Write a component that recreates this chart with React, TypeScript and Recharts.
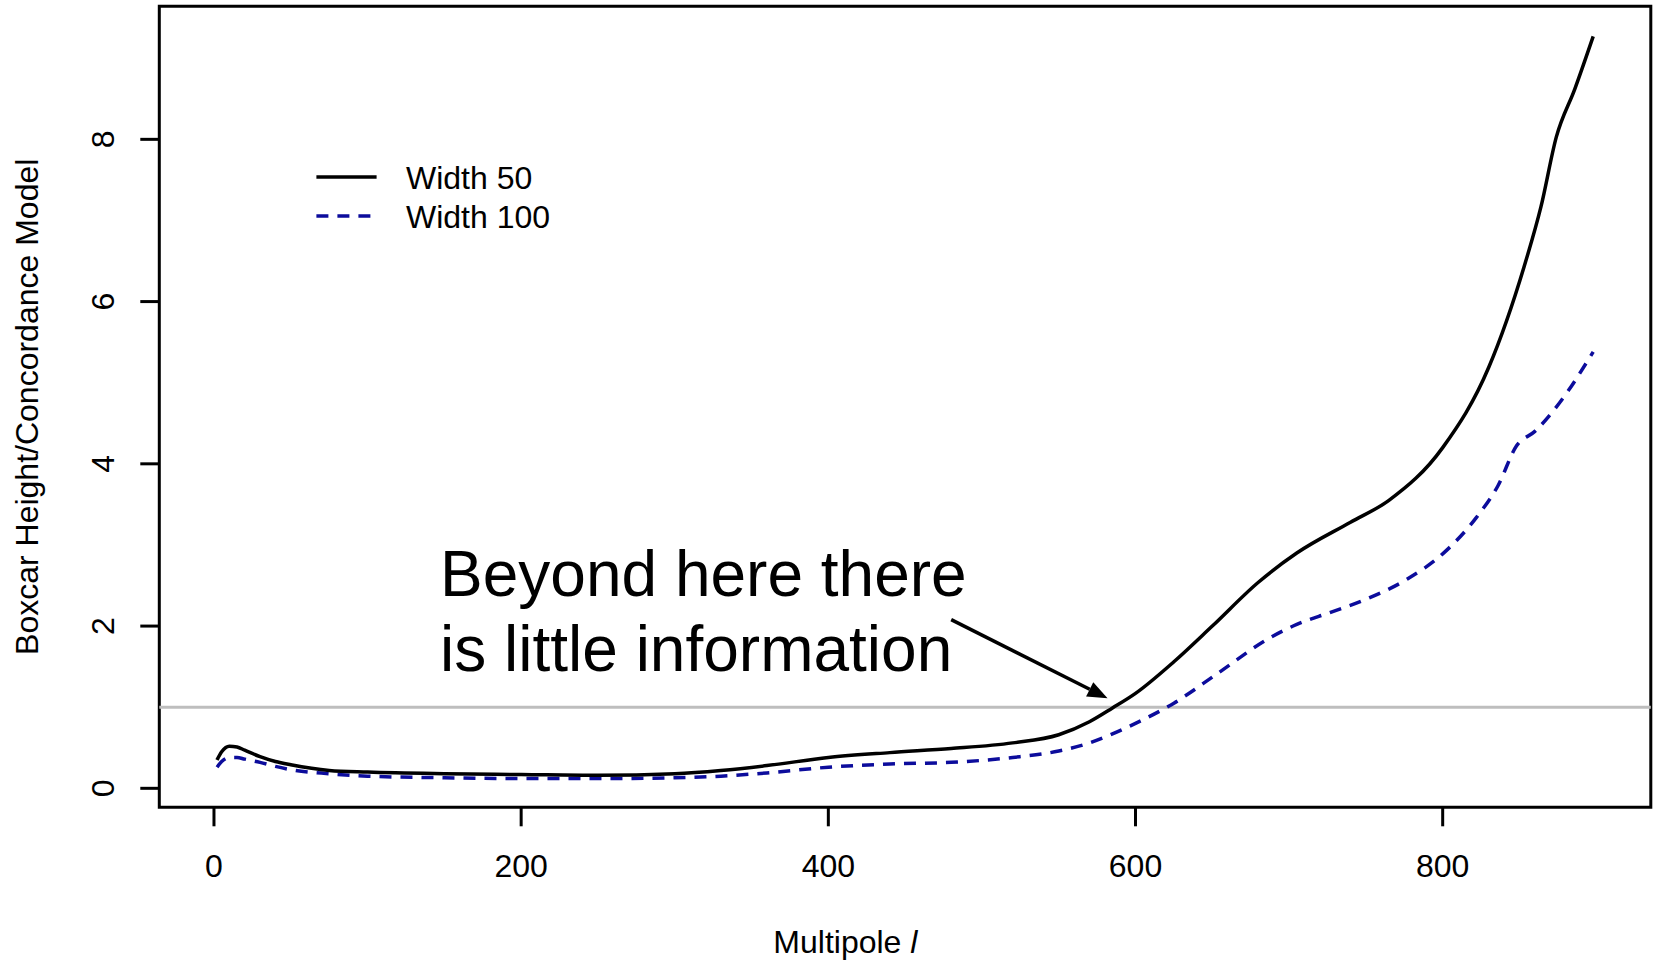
import React from "react";
import {
  LineChart,
  Line,
  XAxis,
  YAxis,
  ReferenceLine,
  ReferenceArea,
  ReferenceDot,
  Legend,
  Label,
} from "recharts";

// Multipole l values and curve heights
const multipoleW50 = [2, 5, 10, 15, 20, 30, 40, 50, 75, 100, 150, 200, 250, 300, 330, 360, 400, 440, 480, 520, 550, 570, 585, 600, 625, 650, 680, 705, 740, 765, 800, 830, 853, 864, 874, 886, 898];
const heightW50 = [0.35, 0.45, 0.52, 0.51, 0.47, 0.39, 0.33, 0.29, 0.22, 0.2, 0.18, 0.17, 0.16, 0.18, 0.22, 0.28, 0.38, 0.44, 0.49, 0.56, 0.66, 0.82, 0.99, 1.17, 1.56, 2.0, 2.54, 2.9, 3.28, 3.55, 4.2, 5.19, 6.43, 7.17, 8.03, 8.62, 9.27];

const multipoleW100 = [2, 5, 10, 15, 20, 30, 40, 50, 75, 100, 150, 200, 250, 300, 330, 360, 400, 440, 480, 520, 550, 570, 585, 600, 625, 653, 687, 705, 727, 750, 777, 800, 822, 836, 848, 860, 876, 898];
const heightW100 = [0.26, 0.33, 0.38, 0.38, 0.36, 0.32, 0.27, 0.23, 0.18, 0.15, 0.13, 0.12, 0.12, 0.13, 0.15, 0.19, 0.26, 0.3, 0.32, 0.38, 0.46, 0.56, 0.67, 0.8, 1.05, 1.41, 1.85, 2.02, 2.17, 2.33, 2.58, 2.89, 3.34, 3.73, 4.22, 4.4, 4.75, 5.38];

const xTicks = [0, 200, 400, 600, 800];
const yTicks = [0, 2, 4, 6, 8];
const seriesNames = ["Width 50", "Width 100"];
const thresholdValue = 1;
const annotationLines = ["Beyond here there", "is little information"];
const xTitle = "Multipole ";
const xTitleItalic = "l";
const yTitle = "Boxcar Height/Concordance Model";

const dataW50 = multipoleW50.map((x, i) => ({ x, y: heightW50[i] }));
const dataW100 = multipoleW100.map((x, i) => ({ x, y: heightW100[i] }));

const FONT = "'Liberation Sans', Arial, Helvetica, sans-serif";
const BLUE = "#0c0c9c";

const XTick = (props: any) => {
  const { x, y, payload } = props;
  return (
    <text x={x} y={y + 51} textAnchor="middle" fontFamily={FONT} fontSize={32} fill="#000">
      {payload.value}
    </text>
  );
};

const YTick = (props: any) => {
  const { x, y, payload } = props;
  const bx = x - 26;
  return (
    <text
      x={bx}
      y={y}
      transform={`rotate(-90 ${bx} ${y})`}
      textAnchor="middle"
      fontFamily={FONT}
      fontSize={32}
      fill="#000"
    >
      {payload.value}
    </text>
  );
};

const XTitle = (props: any) => {
  const vb = props.viewBox || { x: 159, y: 807, width: 1492, height: 157 };
  const cx = vb.x + vb.width * 0.46;
  return (
    <text x={cx} y={vb.y + 146} textAnchor="middle" fontFamily={FONT} fontSize={32} fill="#000">
      {xTitle}
      <tspan fontStyle="italic">{xTitleItalic}</tspan>
    </text>
  );
};

const YTitle = (props: any) => {
  const vb = props.viewBox || { x: 0, y: 6, width: 159, height: 801 };
  const cy = vb.y + vb.height / 2;
  const bx = 38;
  return (
    <text
      x={bx}
      y={cy}
      transform={`rotate(-90 ${bx} ${cy})`}
      textAnchor="middle"
      fontFamily={FONT}
      fontSize={32}
      fill="#000"
    >
      {yTitle}
    </text>
  );
};

const ArrowShape = (props: any) => {
  const { x1, y1, x2, y2 } = props;
  const dx = x2 - x1;
  const dy = y2 - y1;
  const len = Math.sqrt(dx * dx + dy * dy) || 1;
  const ux = dx / len;
  const uy = dy / len;
  const hl = 20;
  const hw = 8;
  const bxp = x2 - ux * hl;
  const byp = y2 - uy * hl;
  const p1 = `${bxp - uy * hw},${byp + ux * hw}`;
  const p2 = `${bxp + uy * hw},${byp - ux * hw}`;
  return (
    <g>
      <line x1={x1} y1={y1} x2={bxp} y2={byp} stroke="#000" strokeWidth={3.5} />
      <polygon points={`${x2},${y2} ${p1} ${p2}`} fill="#000" />
    </g>
  );
};

const AnnotationText = (props: any) => {
  const { cx, cy } = props;
  return (
    <text x={cx} y={cy} fontFamily={FONT} fontSize={64} fill="#000">
      <tspan x={cx} y={cy}>{annotationLines[0]}</tspan>
      <tspan x={cx} y={cy + 75}>{annotationLines[1]}</tspan>
    </text>
  );
};

const LegendContent = () => (
  <svg width={300} height={80} style={{ overflow: "visible" }}>
    <line x1={6.4} y1={17} x2={66.6} y2={17} stroke="#000" strokeWidth={3.5} />
    <line x1={6.4} y1={56} x2={66.6} y2={56} stroke={BLUE} strokeWidth={3.5} strokeDasharray="12 9" />
    <text x={96} y={28.5} fontFamily={FONT} fontSize={32} fill="#000">{seriesNames[0]}</text>
    <text x={96} y={67.5} fontFamily={FONT} fontSize={32} fill="#000">{seriesNames[1]}</text>
  </svg>
);

export default function App() {
  return (
    <div style={{ width: 1654, height: 964, background: "#fff" }}>
      <style>{"body{margin:0;background:#fff;}"}</style>
      <LineChart width={1654} height={964} margin={{ top: 6.3, right: 3.2, bottom: 0, left: 0 }}>
        <XAxis
          type="number"
          dataKey="x"
          domain={[-35.6, 935.5]}
          ticks={xTicks}
          interval={0}
          allowDataOverflow
          axisLine={false}
          stroke="#000"
          tickLine={{ stroke: "#000", strokeWidth: 3 }}
          tickSize={19}
          tickMargin={0}
          height={156.7}
          tick={<XTick />}
          label={<Label content={<XTitle />} />}
        />
        <YAxis
          type="number"
          domain={[-0.234, 9.64]}
          ticks={yTicks}
          interval={0}
          allowDataOverflow
          axisLine={false}
          stroke="#000"
          tickLine={{ stroke: "#000", strokeWidth: 3 }}
          tickSize={19}
          tickMargin={0}
          width={159.3}
          tick={<YTick />}
          label={<Label content={<YTitle />} />}
        />
        <ReferenceLine y={thresholdValue} stroke="#bebebe" strokeWidth={3} />
        <Line
          data={dataW100}
          dataKey="y"
          name={seriesNames[1]}
          type="monotone"
          stroke={BLUE}
          strokeWidth={3.5}
          strokeDasharray="12 9"
          dot={false}
          isAnimationActive={false}
        />
        <Line
          data={dataW50}
          dataKey="y"
          name={seriesNames[0]}
          type="monotone"
          stroke="#000"
          strokeWidth={3.5}
          dot={false}
          isAnimationActive={false}
        />
        <ReferenceArea
          x1={-35.6}
          x2={935.5}
          y1={-0.234}
          y2={9.64}
          fill="none"
          fillOpacity={0}
          stroke="#000"
          strokeWidth={3}
          ifOverflow="visible"
        />
        <ReferenceLine
          segment={[
            { x: 480, y: 2.08 },
            { x: 581.8, y: 1.11 },
          ]}
          shape={<ArrowShape />}
          ifOverflow="visible"
        />
        <ReferenceDot x={147.2} y={2.367} r={0} shape={<AnnotationText />} ifOverflow="visible" />
        <Legend
          layout="vertical"
          align="center"
          verticalAlign="middle"
          content={<LegendContent />}
          wrapperStyle={{ position: "absolute", left: 310, top: 160, width: 300, height: 80 }}
        />
      </LineChart>
    </div>
  );
}
